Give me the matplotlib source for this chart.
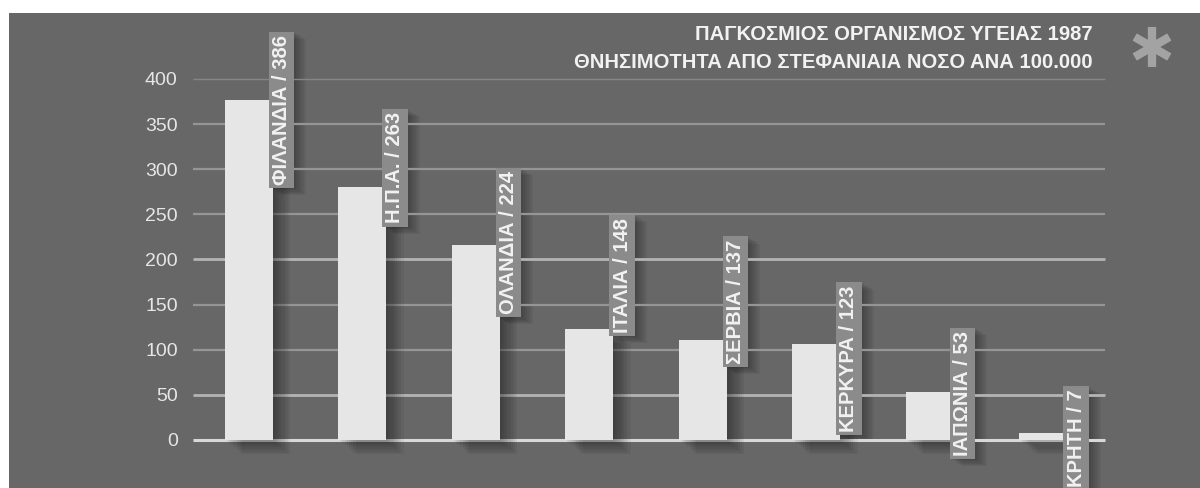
import math
import matplotlib
matplotlib.use("Agg")
import matplotlib.pyplot as plt
import matplotlib.transforms as mtransforms
from matplotlib.patches import Rectangle
from matplotlib.lines import Line2D

# ---------------- data ----------------
countries = ["ΦΙΛΑΝΔΙΑ", "Η.Π.Α.", "ΟΛΑΝΔΙΑ", "ΙΤΑΛΙΑ", "ΣΕΡΒΙΑ", "ΚΕΡΚΥΡΑ", "ΙΑΠΩΝΙΑ", "ΚΡΗΤΗ"]
label_values = [386, 263, 224, 148, 137, 123, 53, 7]
bar_heights = [377, 280, 216, 123, 111, 106, 53, 8]   # heights as drawn in the original
label_tops = [449, 363, 298, 246, 222, 171, 121, 56]  # where each tag starts (y units)
yticks = [0, 50, 100, 150, 200, 250, 300, 350, 400]
title_lines = ["ΠΑΓΚΟΣΜΙΟΣ ΟΡΓΑΝΙΣΜΟΣ ΥΓΕΙΑΣ 1987",
               "ΘΝΗΣΙΜΟΤΗΤΑ ΑΠΟ ΣΤΕΦΑΝΙΑΙΑ ΝΟΣΟ ΑΝΑ 100.000"]

# ---------------- style ----------------
BG = "#676767"
BAR = "#e6e6e6"
TAG = "#8b8b8b"
TXT = "#f2f2f2"
NARROW = ["Liberation Sans Narrow", "Liberation Sans", "DejaVu Sans"]
REG = ["Liberation Sans", "DejaVu Sans"]

W, H = 1200, 488
fig = plt.figure(figsize=(W / 100, H / 100), dpi=100, facecolor="white")

# gray panel (white margin top & left)
fig.add_artist(Rectangle((9 / W, 0), 1 - 9 / W, 1 - 13 / H, transform=fig.transFigure,
                         facecolor=BG, edgecolor="none", zorder=0))

left_px = 193
ax = fig.add_axes([left_px / W, 0, 1 - left_px / W, 1])
ax.set_facecolor("none")
x0_px, step_px = 248.5, 113.5
ax.set_xlim((left_px - x0_px) / step_px, (W - x0_px) / step_px)
ax.set_ylim(-53.2, 487.5)
for s in ax.spines.values():
    s.set_visible(False)
ax.set_xticks([])
ax.set_yticks(yticks)
ax.set_yticklabels([str(v) for v in yticks], fontsize=14, color="#e6e6e6", family=REG)
ax.tick_params(axis="y", length=0, pad=11)

xs = list(range(len(countries)))
bw = 48 / step_px
grid_xmax = (1105 - x0_px) / step_px
grid_xmin = (left_px - x0_px) / step_px

# grid lines
for v in yticks:
    if v == 0:
        c, lw = "#d8d8d8", 2.2
    elif v in (50, 200):
        c, lw = "#b4b4b4", 2.0
    elif v == 400:
        c, lw = "#868686", 1.0
    else:
        c, lw = "#959595", 1.6
    ax.hlines(v, grid_xmin, grid_xmax, colors=c, linewidth=lw, zorder=1)

# bar shadows
for k in range(1, 9):
    off = mtransforms.offset_copy(ax.transData, fig=fig, x=2.2 * k, y=-1.8 * k, units="dots")
    ax.bar(xs, bar_heights, width=bw, color="black", alpha=0.05, transform=off,
           zorder=2, linewidth=0)

# bars
ax.bar(xs, bar_heights, width=bw, color=BAR, zorder=3, linewidth=0)

# tags
tag_dx = 33 / step_px
tags = []
for i, (name, val, top) in enumerate(zip(countries, label_values, label_tops)):
    label = f"{name} / {val}"
    t = ax.text(i + tag_dx, top, label, rotation=90, ha="center", va="top",
                fontsize=14.5, family=NARROW, fontweight="bold", color=TXT, zorder=5,
                bbox=dict(boxstyle="square,pad=0.16", facecolor=TAG, edgecolor="none"))
    tags.append(t)

# tag shadows (drawn as plain patches behind the tags)
fig.canvas.draw()
inv = fig.transFigure.inverted()
for t in tags:
    bb = t.get_bbox_patch().get_window_extent()
    for k in range(1, 7):
        (x0, y0), (x1, y1) = inv.transform([(bb.x0 + 2.0 * k, bb.y0 - 1.2 * k),
                                            (bb.x1 + 2.0 * k, bb.y1 - 1.2 * k)])
        fig.add_artist(Rectangle((x0, y0), x1 - x0, y1 - y0, transform=fig.transFigure,
                                 facecolor="black", alpha=0.055, edgecolor="none", zorder=0.5))
# keep axes content above the panel/shadows
ax.set_zorder(1)
ax.patch.set_visible(False)

# title
fig.text(1093 / W, 1 - 35 / H, title_lines[0], ha="right", va="center", fontsize=14.6,
         family=NARROW, fontweight="bold", color=TXT)
fig.text(1093 / W, 1 - 62 / H, title_lines[1], ha="right", va="center", fontsize=14.6,
         family=NARROW, fontweight="bold", color=TXT)

# asterisk
cx, cy, r = 1152, 488 - 47, 20
for ang in (90, 30, -30):
    a = math.radians(ang)
    fig.add_artist(Line2D([(cx - r * math.cos(a)) / W, (cx + r * math.cos(a)) / W],
                          [(cy - r * math.sin(a)) / H, (cy + r * math.sin(a)) / H],
                          transform=fig.transFigure, color="#a3a3a3", linewidth=6,
                          solid_capstyle="butt", zorder=2))

fig.savefig("out.png", dpi=100, facecolor="white")
